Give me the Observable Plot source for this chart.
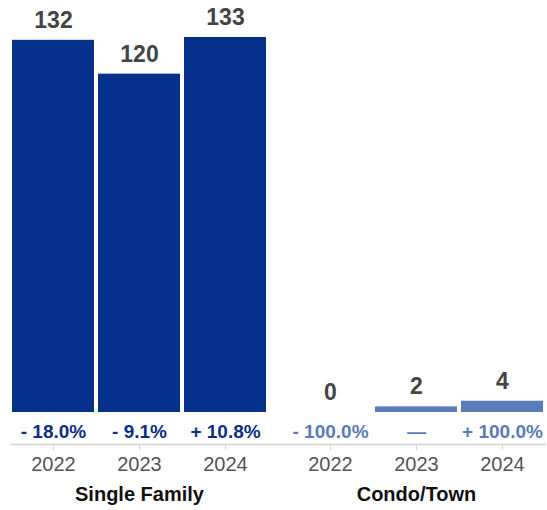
<!DOCTYPE html>
<html>
<head>
<meta charset="utf-8">
<script src="https://cdn.jsdelivr.net/npm/d3@7"></script>
<script src="https://cdn.jsdelivr.net/npm/@observablehq/plot@0.6"></script>
<style>
  html, body { margin: 0; padding: 0; background: #fff; }
  #chart svg { display: block; }
</style>
</head>
<body>
<div id="chart"></div>
<script>
// Property types (one panel each) and the years shown in every panel
const groups = ["Single Family", "Condo/Town"];
const years = ["2022", "2023", "2024"];

// Counts per year
const singleFamily = [132, 120, 133];
const condoTown = [0, 2, 4];

// Year-over-year change labels
const singleFamilyChange = ["- 18.0%", "- 9.1%", "+ 10.8%"];
const condoTownChange = ["- 100.0%", "—", "+ 100.0%"];

const barColors = ["#05308b", "#5a7dba"];
const changeColors = ["#0b2f88", "#5b7bb8"];

const rows = [
  ...years.map((year, i) => ({group: groups[0], year, value: singleFamily[i], change: singleFamilyChange[i]})),
  ...years.map((year, i) => ({group: groups[1], year, value: condoTown[i], change: condoTownChange[i]}))
];

const font = "'Liberation Sans', Arial, Helvetica, sans-serif";

const chart = Plot.plot({
  width: 547,
  height: 510,
  marginTop: 37,
  marginLeft: 11,
  marginRight: 3,
  marginBottom: 66,
  style: {fontFamily: font, background: "#fff"},
  fx: {domain: groups, paddingInner: 0.0827, paddingOuter: 0, axis: null},
  x: {domain: years, paddingInner: 0.052, paddingOuter: 0, label: null},
  y: {domain: [0, d3.max([...singleFamily, ...condoTown])], insetBottom: 32, axis: null},
  color: {domain: groups, range: barColors},
  marks: [
    // baseline under the change labels, bridging the gap between panels
    Plot.ruleY([groups[0]], {fx: d => d, y: () => 0, dy: 32, stroke: "#d4d4d4", strokeWidth: 1.5, insetLeft: -1, insetRight: -12}),
    Plot.ruleY([groups[1]], {fx: d => d, y: () => 0, dy: 32, stroke: "#d4d4d4", strokeWidth: 1.5, insetLeft: -12, insetRight: -3}),
    Plot.axisX({anchor: "bottom", label: null, tickSize: 6, tickPadding: 6, stroke: "#d4d4d4", fill: "#555", fontSize: 20}),
    Plot.barY(rows, {fx: "group", x: "year", y: "value", fill: "group"}),
    Plot.text(rows, {fx: "group", x: "year", y: "value", text: d => String(d.value), dy: -20, fontSize: 23, fontWeight: "bold", fill: "#444"}),
    Plot.text(rows, {fx: "group", x: "year", y: () => 0, text: "change", dy: 19, fontSize: 19, fontWeight: "bold",
      fill: d => changeColors[groups.indexOf(d.group)]}),
    Plot.text(groups, {fx: d => d, frameAnchor: "bottom", text: d => d, dy: 56, fontSize: 20, fontWeight: "bold", fill: "#111"})
  ]
});

document.getElementById("chart").appendChild(chart);
</script>
</body>
</html>
